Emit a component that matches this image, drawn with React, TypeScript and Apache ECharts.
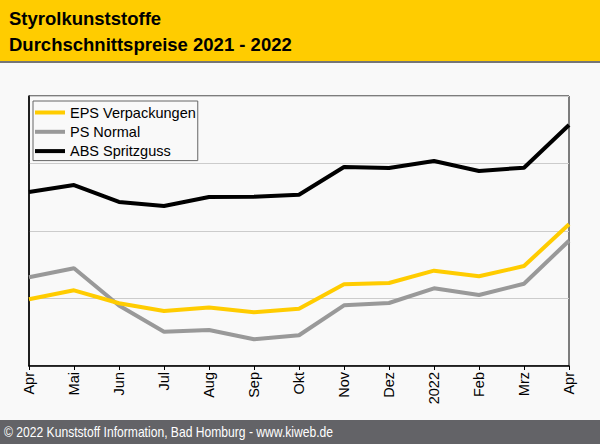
import React, { useEffect, useRef } from "react";
import * as echarts from "echarts";

const categories = ["Apr", "Mai", "Jun", "Jul", "Aug", "Sep", "Okt", "Nov", "Dez", "2022", "Feb", "Mrz", "Apr"];
const epsValues = [98.8, 112.1, 92.9, 81.5, 86.7, 79.6, 84.9, 121.0, 123.0, 141.2, 132.9, 148.1, 209.9];
const psValues = [131.4, 144.7, 89.6, 50.8, 53.3, 39.6, 45.5, 89.9, 93.3, 115.1, 105.2, 121.9, 185.6];
const absValues = [257.8, 268.1, 243.0, 237.0, 250.4, 250.8, 253.8, 294.8, 293.3, 303.7, 288.9, 293.8, 357.0];
const seriesNames = ["EPS Verpackungen", "PS Normal", "ABS Spritzguss"];
const titleLines = ["Styrolkunststoffe", "Durchschnittspreise 2021 - 2022"];
const footerText = "© 2022 Kunststoff Information, Bad Homburg - www.kiweb.de";

const FONT = "'Liberation Sans', Arial, sans-serif";

export default function App() {
  const ref = useRef<HTMLDivElement>(null);
  useEffect(() => {
    document.body.style.margin = "0";
    const chart = echarts.init(ref.current!, null, { renderer: "svg" });
    chart.setOption({
      animation: false,
      backgroundColor: "#f9f9f9",
      textStyle: { fontFamily: FONT },
      graphic: [
        { type: "rect", shape: { x: 0, y: 0, width: 600, height: 61 }, style: { fill: "#ffcc00" }, z: 0 },
        { type: "rect", shape: { x: 0, y: 61, width: 600, height: 2 }, style: { fill: "#767676" }, z: 0 },
        {
          type: "text", x: 9, y: 18.8,
          style: { text: titleLines[0], font: `bold 18.5px ${FONT}`, fill: "#000", verticalAlign: "middle" },
        },
        {
          type: "text", x: 9, y: 44.4,
          style: { text: titleLines[1], font: `bold 18.5px ${FONT}`, fill: "#000", verticalAlign: "middle" },
        },
        { type: "rect", shape: { x: 0, y: 420, width: 600, height: 24 }, style: { fill: "#636367" }, z: 0 },
        {
          type: "text", x: 4, y: 432.5, scaleX: 0.866,
          style: { text: footerText, font: `14px ${FONT}`, fill: "#fff", verticalAlign: "middle" },
        },
      ],
      legend: {
        orient: "vertical",
        left: 33,
        top: 101,
        padding: [4, 2, 2, 2],
        itemGap: 4.3,
        itemWidth: 30,
        itemHeight: 4,
        icon: "rect",
        borderColor: "#666",
        borderWidth: 1,
        backgroundColor: "#f9f9f9",
        textStyle: { fontSize: 14.5, color: "#000", fontFamily: FONT, lineHeight: 15 },
        data: seriesNames,
      },
      grid: {
        left: 29, right: 31, top: 96, bottom: 78,
        show: true, borderColor: "#000", borderWidth: 1, backgroundColor: "transparent",
      },
      xAxis: {
        type: "category",
        data: categories,
        boundaryGap: false,
        axisLine: { lineStyle: { color: "#000", width: 1.5 } },
        axisTick: { show: true, length: 4, lineStyle: { color: "#000" }, alignWithLabel: true },
        axisLabel: { rotate: 90, fontSize: 14.5, color: "#000", margin: 6, interval: 0, fontFamily: FONT },
        splitLine: { show: false },
      },
      yAxis: {
        type: "value",
        min: 0, max: 400, interval: 100,
        axisLabel: { show: false },
        axisTick: { show: false },
        axisLine: { show: true, lineStyle: { color: "#000", width: 1.5 } },
        splitLine: { show: true, lineStyle: { color: "#cccccc", width: 1 } },
      },
      series: [
        { name: seriesNames[0], type: "line", data: epsValues, showSymbol: false, symbol: "none", lineStyle: { color: "#ffcc00", width: 4 }, itemStyle: { color: "#ffcc00" }, z: 3 },
        { name: seriesNames[1], type: "line", data: psValues, showSymbol: false, symbol: "none", lineStyle: { color: "#999999", width: 4 }, itemStyle: { color: "#999999" }, z: 2 },
        { name: seriesNames[2], type: "line", data: absValues, showSymbol: false, symbol: "none", lineStyle: { color: "#000000", width: 4 }, itemStyle: { color: "#000000" }, z: 4 },
      ],
    });
    return () => chart.dispose();
  }, []);
  return <div ref={ref} style={{ width: 600, height: 444 }} />;
}
